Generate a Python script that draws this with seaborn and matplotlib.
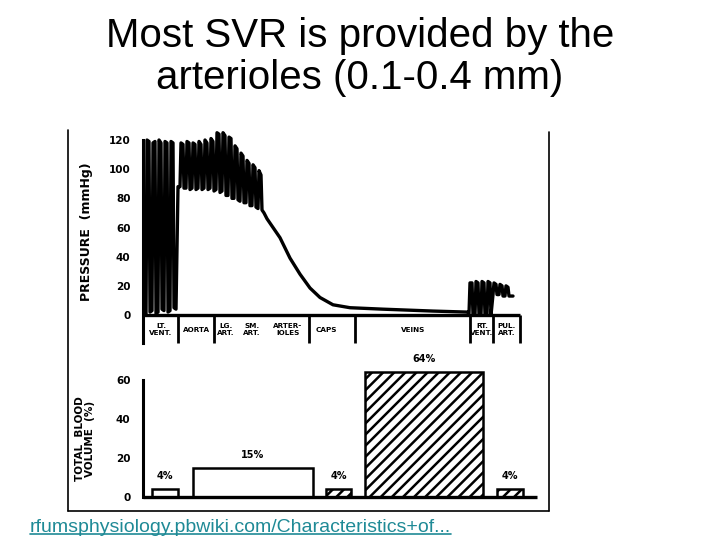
import matplotlib
matplotlib.use("Agg")
import matplotlib.pyplot as plt
import numpy as np
import pandas as pd
import seaborn as sns
from matplotlib.lines import Line2D

# ── Data ──────────────────────────────────────────────────────────────────────
TITLE = "Most SVR is provided by the\narterioles (0.1-0.4 mm)"
SOURCE = "rfumsphysiology.pbwiki.com/Characteristics+of..."

# position along the circulation (arbitrary units) and pressure (mmHg)
trace_pos = [
    3, 4, 6, 7, 9, 10, 12, 13, 15, 16, 18, 19, 21, 22, 24, 25, 27, 28, 30, 31, 33, 35,
    37, 38, 40, 41, 43, 44, 46, 47, 49, 50, 52, 53, 55, 56, 58, 59, 61, 62, 64, 65,
    67, 68, 70, 71,
    73, 74, 76, 77, 79, 80, 82, 83, 85, 86, 88, 89, 91, 92, 94, 95, 97, 98, 100, 101,
    103, 104, 106, 107, 109, 110, 112, 113, 115, 116, 118, 119,
    121, 124, 130, 137, 147, 157, 167, 177, 190, 207, 240, 290, 324,
    326, 327, 329, 330, 332, 333, 335, 336, 338, 339, 341, 342, 344, 345, 347, 348,
    350, 351, 353, 354, 356, 357, 359, 360, 362, 363, 365, 366, 370,
]
trace_mmhg = [
    0, 120, 119, 2, 3, 118, 119, 1, 2, 120, 118, 4, 3, 119, 118, 2, 3, 119, 118, 5, 4, 88,
    88, 118, 117, 87, 87, 119, 118, 86, 87, 118, 117, 86, 87, 119, 117, 86, 87, 120, 118, 86,
    87, 121, 119, 85,
    86, 125, 124, 84, 85, 125, 123, 82, 82, 122, 121, 80, 80, 116, 114, 79, 78, 111, 109, 77,
    77, 106, 104, 75, 75, 103, 101, 74, 73, 99, 96, 72,
    70, 66, 60, 53, 39, 28, 18.5, 12, 7, 5, 4, 2.7, 2,
    1, 22, 22, 0, 0, 23, 22, 0, 0, 23, 22, 0, 0, 23, 22, 0,
    14, 22, 21, 14, 14, 21, 20, 13, 13, 20, 19, 13, 13,
]

seg_edges = [0, 35, 71, 166, 212, 327, 350, 377]
seg_labels = ["LT.\nVENT.", "AORTA", "LG.\nART.", "SM.\nART.", "ARTER-\nIOLES",
              "CAPS", "VEINS", "RT.\nVENT.", "PUL.\nART."]
seg_label_pos = [18, 54, 83, 109, 145, 183, 270, 339, 364]

vol_left = [9, 50, 183, 222, 354]
vol_right = [35, 170, 208, 340, 380]
vol_pct = [4, 15, 4, 64, 4]
vol_hatched = [False, False, True, True, True]

pressure_ticks = [0, 20, 40, 60, 80, 100, 120]
volume_ticks = [0, 20, 40, 60]

# ── Style ─────────────────────────────────────────────────────────────────────
sns.set_style("white")
plt.rcParams["font.family"] = ["DejaVu Sans"]
plt.rcParams["hatch.linewidth"] = 1.8
plt.rcParams["text.color"] = "black"
plt.rcParams["ytick.color"] = "black"
plt.rcParams["ytick.labelcolor"] = "black"
plt.rcParams["axes.labelcolor"] = "black"

fig = plt.figure(figsize=(7.2, 5.4), dpi=100)

fig.text(0.5, 1 - 57 / 540, TITLE, ha="center", va="center", fontsize=29,
         color="black", family=["Liberation Sans", "DejaVu Sans"], linespacing=1.12)

# ── Pressure trace ────────────────────────────────────────────────────────────
ax1 = fig.add_axes([143 / 720, 1 - 345 / 540, 397 / 720, 217 / 540])
df = pd.DataFrame({"pos": trace_pos, "mmhg": trace_mmhg})
sns.lineplot(data=df, x="pos", y="mmhg", sort=False, estimator=None,
             color="black", lw=2.4, ax=ax1)
ax1.set_xlim(0, 397)
ax1.set_ylim(-20.57, 128.23)
for s in ["top", "right", "bottom"]:
    ax1.spines[s].set_visible(False)
ax1.spines["left"].set_color("black")
ax1.spines["left"].set_linewidth(2.2)
ax1.spines["left"].set_bounds(-19.2, 120)
ax1.set_yticks(pressure_ticks)
ax1.set_xticks([])
ax1.tick_params(axis="y", length=7, width=2, pad=2, labelsize=7.5)
for t in ax1.get_yticklabels():
    t.set_fontweight("bold")
ax1.set_xlabel("")
ax1.set_ylabel("PRESSURE  (mmHg)", fontsize=9, fontweight="bold")
ax1.hlines(0, seg_edges[0], seg_edges[-1], color="black", lw=2.4, clip_on=False)
ax1.vlines(seg_edges, -19.2, 0, color="black", lw=2.0, clip_on=False)
for lab, x in zip(seg_labels, seg_label_pos):
    ax1.text(x, -10, lab, ha="center", va="center", fontsize=5.2,
             fontweight="bold", linespacing=1.1)

# ── Blood volume bars ─────────────────────────────────────────────────────────
ax2 = fig.add_axes([143 / 720, 1 - 500 / 540, 397 / 720, 145 / 540])
widths = [r - l for l, r in zip(vol_left, vol_right)]
bars = ax2.bar(vol_left, vol_pct, width=widths, align="edge", color="white",
               edgecolor="black", linewidth=1.8)
for b, h in zip(bars, vol_hatched):
    if h:
        b.set_hatch("///")
for l, w, v in zip(vol_left, widths, vol_pct):
    ax2.text(l + w / 2, v + 4, f"{v}%", ha="center", va="bottom",
             fontsize=7, fontweight="bold")
ax2.set_xlim(0, 397)
ax2.set_ylim(-1.54, 72.82)
for s in ["top", "right", "bottom"]:
    ax2.spines[s].set_visible(False)
ax2.spines["left"].set_color("black")
ax2.spines["left"].set_linewidth(2.2)
ax2.spines["left"].set_bounds(0, 60)
ax2.hlines(0, 0, 394, color="black", lw=2.4, clip_on=False)
ax2.set_yticks(volume_ticks)
ax2.set_xticks([])
ax2.tick_params(axis="y", length=7, width=2, pad=2, labelsize=7.5)
for t in ax2.get_yticklabels():
    t.set_fontweight("bold")
ax2.set_ylabel("TOTAL  BLOOD\nVOLUME  (%)", fontsize=7.5, fontweight="bold",
               linespacing=1.0)

ax1.yaxis.set_label_coords(-0.127, 0.52)
ax2.yaxis.set_label_coords(-0.12, 0.42)

# ── Frame of the scanned figure ───────────────────────────────────────────────
def px(x, y):
    return x / 720, 1 - y / 540

for (x0, y0), (x1, y1) in [((68, 130), (68, 511)), ((549, 132), (549, 511)),
                           ((68, 511), (549, 511))]:
    a, b = px(x0, y0)
    c, d = px(x1, y1)
    fig.add_artist(Line2D([a, c], [b, d], color="black", lw=1.2))

# ── Source link ───────────────────────────────────────────────────────────────
src = fig.text(30 / 720, 1 - 527 / 540, SOURCE, ha="left", va="center",
               fontsize=14, color="#1f8a96", family=["Liberation Sans", "DejaVu Sans"])
fig.canvas.draw()
bb = src.get_window_extent(renderer=fig.canvas.get_renderer())
bb = bb.transformed(fig.transFigure.inverted())
fig.add_artist(Line2D([bb.x0, bb.x1], [bb.y0 + 0.002, bb.y0 + 0.002],
                      color="#1f8a96", lw=1.2))

fig.savefig("out.png", dpi=100)
